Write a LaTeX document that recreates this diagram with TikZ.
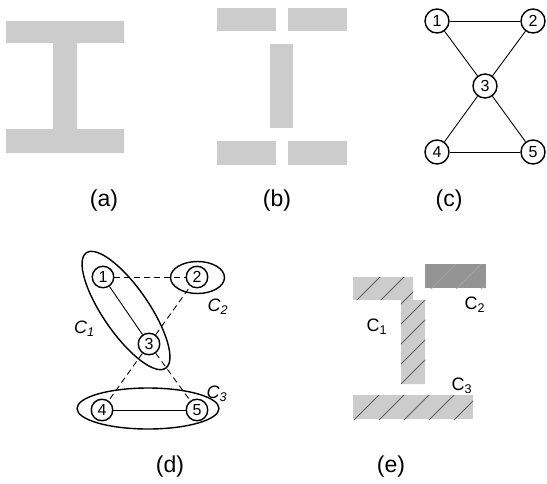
\documentclass[tikz,border=0pt]{standalone}
\usepackage{fontspec}
\setmainfont{Liberation Sans}
\usepackage{xcolor}
\usetikzlibrary{positioning,shapes.geometric,calc}
\tikzset{
  beam/.style  = {fill=black!20, draw=none},
  dark/.style  = {fill=black!42, draw=none},
  hatch/.style = {draw=black!62, line width=0.9pt},
  shade/.style = {draw=black!36, line width=0.7pt},
  vtx/.style   = {draw, circle, line width=1.4pt, inner sep=0pt,
                  minimum size=24pt, font=\fontsize{16}{16}\selectfont},
  vtxs/.style  = {vtx, minimum size=21.5pt},
  edg/.style   = {line width=0.9pt},
  dsh/.style   = {edg, dash pattern=on 6pt off 4pt},
  clus/.style  = {draw, ellipse, line width=1.4pt, inner sep=0pt},
  capt/.style  = {font=\fontsize{23}{23}\selectfont, inner sep=0pt},
  clbl/.style  = {font=\fontsize{18}{18}\selectfont, inner sep=0pt},
}

\begin{document}
\begin{tikzpicture}[x=1pt, y=-1pt]
\useasboundingbox (0,0) rectangle (547,483);

% --- (a) solid section ---
\fill[beam] (6,21) -- (124,21) -- (124,43) -- (77,43) -- (77,129) -- (124,129)
  -- (124,153) -- (6,153) -- (6,129) -- (53,129) -- (53,43) -- (6,43) -- cycle;
\node[capt] (capa) at (104,201) {(a)};

% --- (b) split into parts ---
\fill[beam] (217,8) rectangle (276,31);
\fill[beam] (288,8) rectangle (347,31);
\fill[beam] (270,44) rectangle (293,128);
\fill[beam] (217,141) rectangle (276,165);
\fill[beam] (288,141) rectangle (347,165);
\node[capt] (capb) at (277,201) {(b)};

% --- (c) graph ---
\node[vtx] (c1) at (437,21) {1};
\node[vtx] (c2) at (533,21) {2};
\node[vtx] (c3) at (485,86) {3};
\node[vtx] (c4) at (437,152) {4};
\node[vtx] (c5) at (533,152) {5};
\draw[edg] (c1) -- (c2);
\draw[edg] (c1) -- (c3);
\draw[edg] (c2) -- (c3);
\draw[edg] (c3) -- (c4);
\draw[edg] (c3) -- (c5);
\draw[edg] (c4) -- (c5);
\node[capt] (capc) at (449,201) {(c)};

% --- (d) clustered graph ---
\node[vtxs] (d1) at (103,277) {1};
\node[vtxs] (d2) at (197,277) {2};
\node[vtxs] (d3) at (149,344) {3};
\node[vtxs] (d4) at (102,410) {4};
\node[vtxs] (d5) at (197,410) {5};
\node[clus, minimum width=140pt, minimum height=46pt, rotate=-55.5]
     (cl1) at ($(d1)!0.5!(d3)$) {};
\node[clus, minimum width=54pt, minimum height=32pt] (cl2) at (197.5,277.5) {};
\node[clus, minimum width=142pt, minimum height=41pt] (cl3) at (148,408.5) {};
\draw[edg] (d1) -- (d3);
\draw[edg] (d4) -- (d5);
\draw[dsh] (d1) -- (d2);
\draw[dsh] (d3) -- (d2);
\draw[dsh] (d3) -- (d4);
\draw[dsh] (d3) -- (d5);
\node[clbl] (lc1) at (84.5,329) {\itshape C\textsubscript{1}};
\node[clbl] (lc2) at (218,307) {\itshape C\textsubscript{2}};
\node[clbl] (lc3) at (217,394) {\itshape C\textsubscript{3}};
\node[capt] (capd) at (170,467) {(d)};

% --- (e) parts of the section ---
\fill[beam] (353,277) -- (413,277) -- (413,300) -- (425,300) -- (425,384)
  -- (401,384) -- (401,300) -- (353,300) -- cycle;
\begin{scope}
  \clip (353,277) -- (413,277) -- (413,300) -- (425,300) -- (425,384)
    -- (401,384) -- (401,300) -- (353,300) -- cycle;
  \foreach \k in {657,681,705,725,745,765,785}
    \draw[hatch] (\k-430,430) -- (\k-250,250);
\end{scope}
\fill[dark] (425,264) rectangle (486,288);
\begin{scope}
  \clip (425,264) rectangle (486,288);
  \foreach \k in {720,745,770}
    \draw[shade] (\k-430,430) -- (\k-250,250);
\end{scope}
\fill[beam] (353,395) rectangle (473,419);
\begin{scope}
  \clip (353,395) rectangle (473,419);
  \foreach \k in {774,799,824,849,874,899}
    \draw[hatch] (\k-430,430) -- (\k-250,250);
\end{scope}
\node[clbl] (le1) at (377,327) {C\textsubscript{1}};
\node[clbl] (le2) at (475,305) {C\textsubscript{2}};
\node[clbl] (le3) at (462,386) {C\textsubscript{3}};
\node[capt] (cape) at (391,467) {(e)};
\end{tikzpicture}
\end{document}
